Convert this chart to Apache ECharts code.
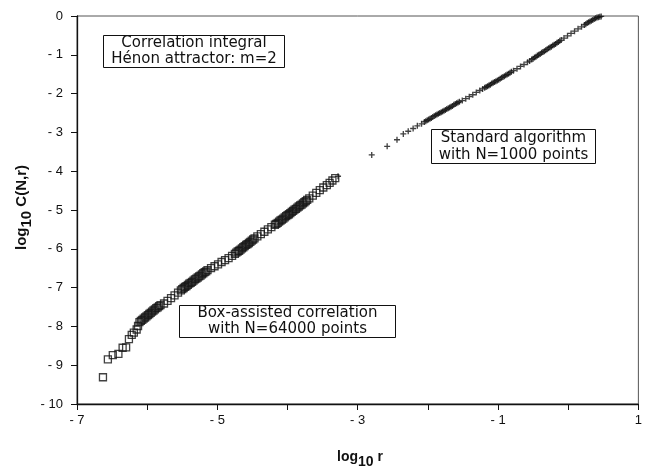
<!DOCTYPE html>
<html><head><meta charset="utf-8">
<script src="https://cdn.jsdelivr.net/npm/echarts@6/dist/echarts.min.js"></script>
<style>html,body{margin:0;padding:0;background:#fff}#c{width:645px;height:466px}</style>
</head><body><div id="c"></div>
<script>
// Box-assisted correlation (N=64000) — squares
const sqX = [-6.63,-6.56,-6.49,-6.41,-6.35,-6.30,-6.26,-6.22,-6.19,-6.15,-6.13,
  -6.11,-6.09,-6.07,-6.05,-6.03,-6.01,-5.99,-5.97,-5.95,-5.93,-5.91,-5.89,-5.87,-5.85,-5.83,-5.81,
  -5.76,-5.71,-5.66,-5.61,-5.56,-5.52,
  -5.50,-5.48,-5.46,-5.44,-5.42,-5.40,-5.38,-5.36,-5.34,-5.32,-5.30,-5.28,-5.26,-5.24,-5.22,-5.20,-5.18,-5.16,-5.14,
  -5.09,-5.04,-4.99,-4.94,-4.89,-4.84,-4.79,
  -4.75,-4.73,-4.71,-4.69,-4.67,-4.65,-4.63,-4.61,-4.59,-4.57,-4.55,-4.53,-4.51,-4.49,-4.47,
  -4.43,-4.38,-4.33,-4.28,-4.23,-4.18,
  -4.16,-4.14,-4.12,-4.10,-4.08,-4.06,-4.04,-4.02,-4.00,-3.98,-3.96,-3.94,-3.92,-3.90,-3.88,-3.86,-3.84,-3.82,-3.80,-3.78,-3.76,-3.74,-3.72,
  -3.69,-3.64,-3.59,-3.54,-3.49,-3.44,-3.40,-3.36,-3.32];
const sqY = [-9.31,-8.85,-8.74,-8.71,-8.55,-8.54,-8.33,-8.22,-8.16,-8.08,-7.99,
  -7.89,-7.86,-7.83,-7.80,-7.77,-7.74,-7.71,-7.68,-7.65,-7.62,-7.59,-7.56,-7.53,-7.51,-7.48,-7.45,
  -7.41,-7.34,-7.27,-7.20,-7.13,-7.07,
  -7.04,-7.01,-6.98,-6.96,-6.93,-6.90,-6.88,-6.85,-6.82,-6.79,-6.77,-6.74,-6.71,-6.69,-6.66,-6.63,-6.60,-6.58,-6.55,
  -6.50,-6.45,-6.40,-6.34,-6.29,-6.24,-6.18,
  -6.13,-6.10,-6.07,-6.05,-6.02,-5.99,-5.96,-5.93,-5.90,-5.88,-5.85,-5.82,-5.79,-5.76,-5.73,
  -5.68,-5.62,-5.56,-5.50,-5.44,-5.38,
  -5.36,-5.33,-5.30,-5.27,-5.25,-5.22,-5.19,-5.16,-5.13,-5.11,-5.08,-5.05,-5.02,-4.99,-4.97,-4.94,-4.91,-4.88,-4.86,-4.83,-4.80,-4.77,-4.74,
  -4.70,-4.63,-4.56,-4.49,-4.42,-4.36,-4.30,-4.24,-4.18];

// Standard algorithm (N=1000) — crosses
const crX = [-3.28,
  -2.80,-2.58,-2.44,-2.35,-2.28,-2.21,-2.15,-2.09,
  -2.05,-2.03,-2.01,-1.99,-1.97,-1.95,-1.93,-1.91,-1.89,-1.87,-1.85,-1.83,-1.81,-1.79,-1.77,-1.75,-1.73,-1.71,-1.69,-1.67,-1.65,-1.63,-1.61,-1.59,-1.57,-1.55,
  -1.51,-1.46,-1.41,-1.36,-1.31,-1.26,-1.22,
  -1.19,-1.17,-1.15,-1.13,-1.11,-1.09,-1.07,-1.05,-1.03,-1.01,-0.99,-0.97,-0.95,-0.93,-0.91,-0.89,-0.87,-0.85,-0.83,-0.81,
  -0.78,-0.73,-0.68,-0.63,-0.58,-0.55,
  -0.52,-0.50,-0.48,-0.46,-0.44,-0.42,-0.40,-0.38,-0.36,-0.34,-0.32,-0.30,-0.28,-0.26,-0.24,-0.22,-0.20,-0.18,-0.16,-0.14,-0.12,-0.10,
  -0.06,-0.01,0.04,0.09,0.14,0.19,
  0.23,0.25,0.27,0.29,0.31,0.33,0.35,0.37,0.39,0.41,0.43,0.45,0.47];
const crY = [-4.13,
  -3.58,-3.36,-3.19,-3.04,-2.97,-2.90,-2.83,-2.78,
  -2.73,-2.71,-2.69,-2.67,-2.65,-2.63,-2.60,-2.58,-2.56,-2.54,-2.52,-2.50,-2.48,-2.46,-2.44,-2.42,-2.40,-2.38,-2.36,-2.34,-2.32,-2.29,-2.27,-2.25,-2.23,-2.21,
  -2.18,-2.13,-2.08,-2.03,-1.97,-1.92,-1.88,
  -1.85,-1.83,-1.81,-1.79,-1.77,-1.74,-1.72,-1.70,-1.68,-1.66,-1.64,-1.62,-1.59,-1.57,-1.55,-1.53,-1.51,-1.49,-1.46,-1.44,
  -1.41,-1.36,-1.30,-1.25,-1.19,-1.16,
  -1.12,-1.10,-1.07,-1.05,-1.02,-1.00,-0.98,-0.95,-0.93,-0.91,-0.88,-0.86,-0.83,-0.81,-0.79,-0.76,-0.74,-0.72,-0.69,-0.67,-0.64,-0.62,
  -0.57,-0.51,-0.45,-0.39,-0.33,-0.28,
  -0.23,-0.21,-0.18,-0.16,-0.14,-0.12,-0.10,-0.08,-0.06,-0.04,-0.03,-0.02,-0.01];

const xTickLabels = {'-7':'- 7','-5':'- 5','-3':'- 3','-1':'- 1','1':'1'};

const sqData = sqX.map((x,i)=>[x, sqY[i]]);
const crData = crX.map((x,i)=>[x, crY[i]]);

const ink = '#111';
const labFont = 'Liberation Sans';
const boxFont = 'DejaVu Sans';

const chart = echarts.init(document.getElementById('c'), null, {renderer:'canvas'});
chart.setOption({
  animation:false,
  backgroundColor:'#fff',
  grid:{left:77, right:4, top:16, bottom:62, show:true, borderColor:'#555', borderWidth:1},
  xAxis:{type:'value', min:-7, max:1, interval:1,
    axisLine:{onZero:false, lineStyle:{color:ink, width:1.3}},
    axisTick:{length:6, lineStyle:{color:ink}},
    splitLine:{show:false},
    axisLabel:{color:ink, fontFamily:labFont, fontSize:13, margin:10,
      formatter:v=> xTickLabels[String(v)] || ''}},
  yAxis:{type:'value', min:-10, max:0, interval:1,
    axisLine:{onZero:false, lineStyle:{color:ink, width:1.3}},
    axisTick:{length:6, lineStyle:{color:ink}},
    splitLine:{show:false},
    axisLabel:{color:ink, fontFamily:labFont, fontSize:13, margin:14,
      formatter:v=> v===0 ? '0' : '- ' + Math.abs(v)}},
  series:[
    {type:'scatter', data:sqData, symbol:'rect', symbolSize:7,
      itemStyle:{color:'rgba(0,0,0,0)', borderColor:ink, borderWidth:1.3}},
    {type:'scatter', data:crData,
      symbol:'path://M0,3.9H10V6.1H0Z M3.9,0H6.1V10H3.9Z', symbolSize:6,
      itemStyle:{color:ink}}
  ],
  graphic:[
    {type:'rect', shape:{x:103.5,y:35.5,width:181,height:32}, style:{fill:'#fff', stroke:ink, lineWidth:1}},
    {type:'text', x:194, y:51.5, style:{text:'Correlation integral\nHénon attractor: m=2', font:'15px '+boxFont, fill:ink, align:'center', verticalAlign:'middle', lineHeight:16}},
    {type:'rect', shape:{x:431.5,y:129.5,width:164,height:34}, style:{fill:'#fff', stroke:ink, lineWidth:1}},
    {type:'text', x:513.5, y:146.5, style:{text:'Standard algorithm\nwith N=1000 points', font:'15px '+boxFont, fill:ink, align:'center', verticalAlign:'middle', lineHeight:17}},
    {type:'rect', shape:{x:179.5,y:305.5,width:216,height:32}, style:{fill:'#fff', stroke:ink, lineWidth:1}},
    {type:'text', x:287.5, y:321.5, style:{text:'Box-assisted correlation\nwith N=64000 points', font:'15px '+boxFont, fill:ink, align:'center', verticalAlign:'middle', lineHeight:16}},
    {type:'text', x:337, y:450, style:{text:'{a|log}{b|10}{a| r}', fill:ink,
      rich:{a:{fontFamily:labFont, fontSize:14, fontWeight:'bold', lineHeight:19, verticalAlign:'top'},
            b:{fontFamily:labFont, fontSize:14, fontWeight:'bold', lineHeight:19, verticalAlign:'bottom'}}}},
    {type:'text', x:14, y:250, rotation:Math.PI/2, style:{text:'{a|log}{b|10}{a| C(N,r)}', fill:ink,
      rich:{a:{fontFamily:labFont, fontSize:15, fontWeight:'bold', lineHeight:20, verticalAlign:'top'},
            b:{fontFamily:labFont, fontSize:15, fontWeight:'bold', lineHeight:20, verticalAlign:'bottom'}}}}
  ]
});
</script></body></html>
